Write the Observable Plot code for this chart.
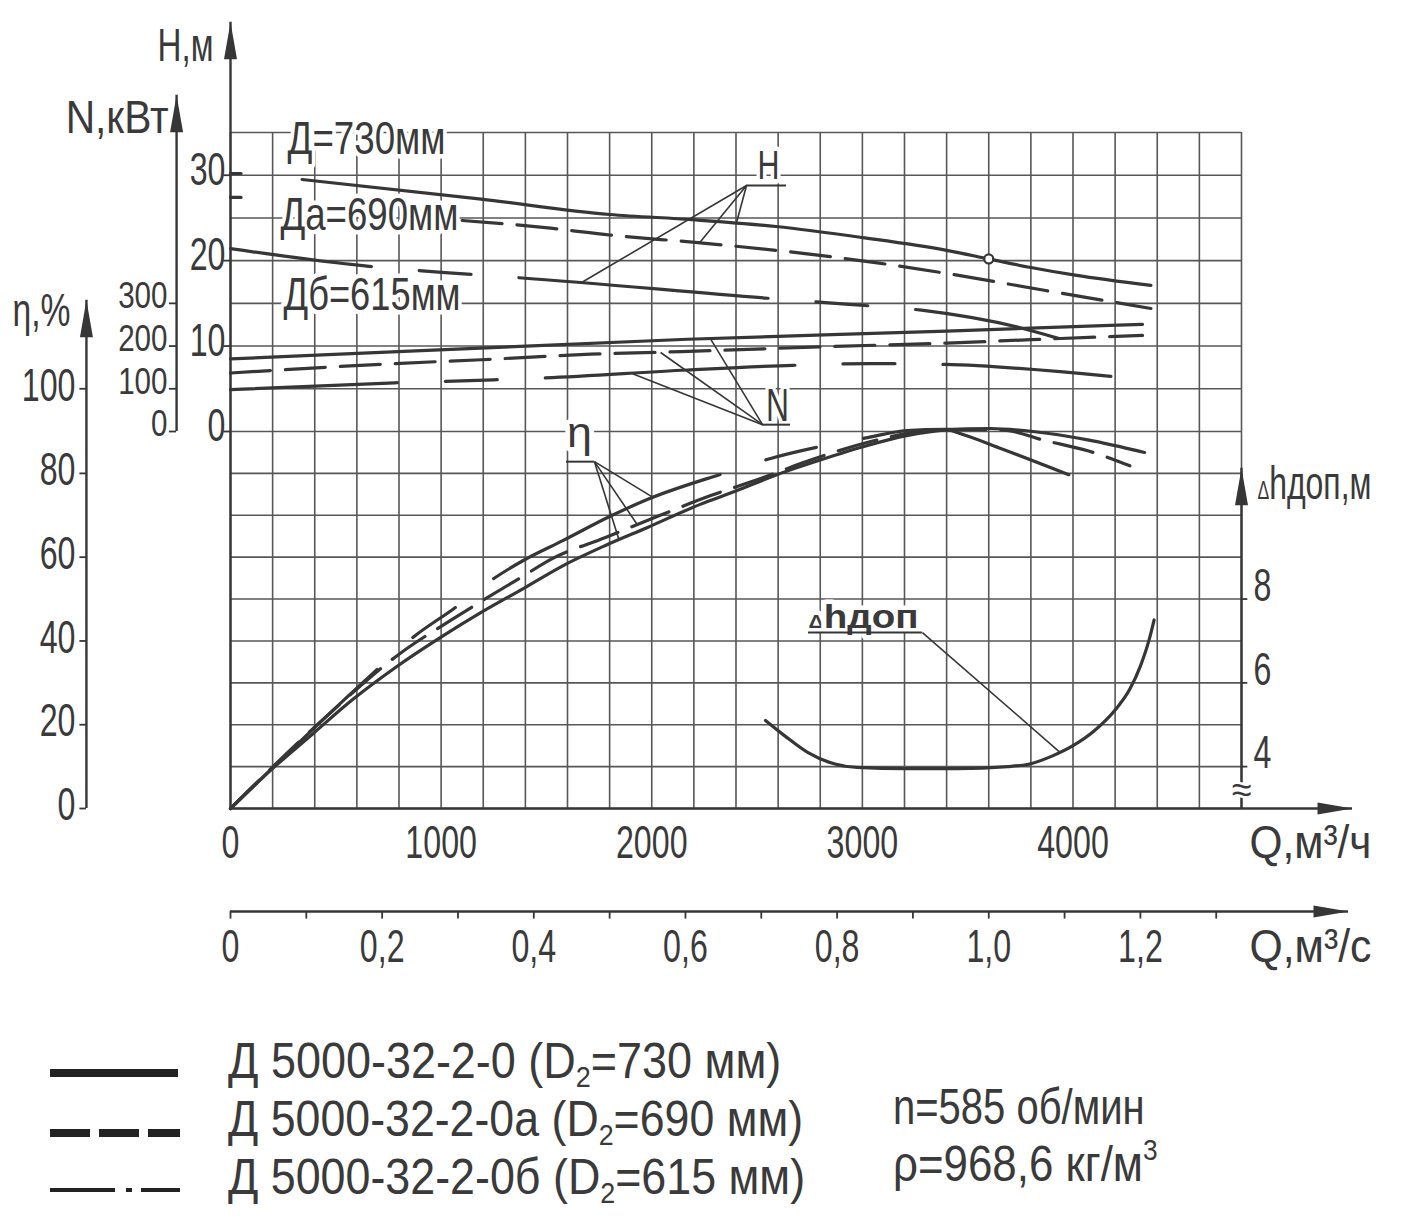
<!DOCTYPE html>
<html><head><meta charset="utf-8">
<script src="https://cdn.jsdelivr.net/npm/d3@7"></script>
<script src="https://cdn.jsdelivr.net/npm/@observablehq/plot@0.6"></script>
<style>
html,body{margin:0;padding:0;background:#fff;}
#page{position:relative;width:1408px;height:1216px;overflow:hidden;background:#fff;font-family:"Liberation Sans",Arial,sans-serif;color:#3a3a3a;}
#chart{position:absolute;left:0;top:0;}
#legend{position:absolute;left:0;top:1020px;width:1408px;height:196px;}
.lg{position:absolute;white-space:nowrap;font-size:50px;line-height:50px;transform-origin:left center;display:inline-block;}
.lg sub{font-size:60%;vertical-align:-0.3em;line-height:0;}
.lg sup{font-size:60%;vertical-align:0.7em;line-height:0;}
</style></head><body><div id="page"><div id="chart"></div><div id="legend"></div></div>
<script>
// ---------------- DATA ----------------
const qTickLabels = [0, 1000, 2000, 3000, 4000];            // Q, м3/ч
const qsTickLabels = [0, 0.2, 0.4, 0.6, 0.8, 1.0, 1.2];      // Q, м3/с
const qsMinorTicks = [0, 0.1, 0.2, 0.3, 0.4, 0.5, 0.6, 0.7, 0.8, 0.9, 1.0, 1.1, 1.2, 1.3];
const hTicks = [0, 10, 20, 30];
const nTicks = [0, 100, 200, 300];
const etaTicks = [0, 20, 40, 60, 80, 100];
const dhTicks = [4, 6, 8];

// H (m) vs Q (m3/h); null = gap in the drawn curve
const qH730 = [0, 50, 200, 340, 1190, 1800, 2190, 2590, 3000, 3400, 3600, 3800, 4010, 4370];
const hH730 = [30.2, 30.2, null, 29.5, 27.2, 25.4, 24.8, 24.0, 22.7, 21.2, 20.2, 19.2, 18.3, 17.1];
const qH690 = [0, 50, 500, 1100, 1520, 1800, 2220, 2630, 3080, 3450, 3870, 4370];
const hH690 = [27.4, 27.4, null, 24.7, 23.8, 23.0, 22.1, 21.1, 19.7, 18.3, 16.5, 14.4];
const qH615 = [0, 670, 1020, 1370, 2550, 2920, 3280, 3740, 3930];
const hH615 = [21.4, 19.3, 18.6, 18.0, 15.6, 14.9, 14.2, 12.2, 10.9];

// N (kW)
const qN730 = [0, 990, 2170, 3400, 4330];
const nN730 = [170, 191, 216, 235, 251];
const qN690 = [0, 780, 1190, 1710, 2140, 2850, 3400, 3800, 4330];
const nN690 = [137, 159, 168, 181, 187, 199, 207, 215, 225];
const qN615 = [0, 780, 1250, 1470, 2170, 2670, 3040, 3390, 4180];
const nN615 = [98, 114, 121, 125, 144, 155, 159, 157, 129];

// η (%)
const qE730 = [0, 190, 390, 580, 790, 990, 1190, 1390, 1580, 1780, 1980, 2230, 2390, 2600, 2800, 3020, 3210, 3400, 3610, 3810, 4070, 4340];
const eE730 = [0, 9.1, 17.8, 26.0, 33.9, 40.6, 46.8, 52.5, 58.0, 62.8, 67.1, 72.6, 75.6, 79.8, 83.2, 86.6, 89.0, 90.4, 90.7, 90.0, 88.0, 85.0];
const qE690 = [0, 475, 810, 1045, 1380, 1530, 1780, 2040, 2280, 2530, 2710, 3040, 3210, 3420, 3660, 3870, 4070, 4270];
const eE690 = [0, 22.9, 37.2, 44.9, 55.2, 59.7, 64.7, 70.0, 74.7, 79.0, 82.4, 87.6, 89.5, 90.5, 90.4, 87.8, 85.4, 81.8];
const qE615 = [0, 475, 690, 870, 1060, 1250, 1390, 1580, 1800, 1990, 2340, 2560, 2800, 3030, 3210, 3390, 3470, 3660, 3980];
const eE615 = [0, 22.9, 32.9, 41.0, 47.7, 54.9, 59.2, 64.0, 69.7, 74.0, 80.0, 83.5, 86.4, 88.6, 90.2, 90.5, 89.4, 85.9, 79.7];

// Δh доп (m)
const qDh = [2540, 2630, 2740, 2850, 2975, 3210, 3450, 3690, 3800, 3900, 4000, 4100, 4200, 4270, 4320, 4360, 4385];
const dhVals = [5.10, 4.74, 4.34, 4.09, 3.98, 3.95, 3.95, 4.00, 4.07, 4.25, 4.50, 4.85, 5.35, 5.85, 6.40, 7.00, 7.50];

const nominalPoint = [{q: 3600, h: 20.2}];

// annotation labels and leader lines (in data units of each quantity)
const diamLabels = [{text: "Д=730мм", q: 271, h: 34.2}, {text: "Да=690мм", q: 237, h: 25.3}, {text: "Дб=615мм", q: 252, h: 16.0}];
const leadersH = [{q1: 2450, v1: 28.8, q2: 1671, v2: 17.5}, {q1: 2450, v1: 28.8, q2: 2227, v2: 22.1}, {q1: 2450, v1: 28.8, q2: 2402, v2: 24.4}];
const underH = [{q1: 2450, q2: 2640, v: 28.8}];
const labelH = [{text: "H", q: 2554, v: 31.0}];
const leadersN = [{q1: 2526, v1: 16, q2: 2279, v2: 217}, {q1: 2526, v1: 16, q2: 2042, v2: 185}, {q1: 2526, v1: 16, q2: 1909, v2: 135}];
const underN = [{q1: 2526, q2: 2659, v: 16}];
const labelN = [{text: "N", q: 2597, v: 58.5}];
const leadersE = [{q1: 1728, v1: 82.8, q2: 2002, v2: 74.4}, {q1: 1728, v1: 82.8, q2: 1931, v2: 67.8}, {q1: 1728, v1: 82.8, q2: 1844, v2: 64.2}];
const underE = [{q1: 1595, q2: 1728, v: 82.8}];
const labelE = [{text: "η", q: 1657, v: 89.5}];
const leadersD = [{q1: 3285, v1: 7.2, q2: 3941, v2: 4.33}];
const underD = [{q1: 2744, q2: 3285, v: 7.2}];
const labelD = [{text: "Δhдоп", q: 3005, v: 7.57}];

const legendNames = ["Д 5000-32-2-0", "Д 5000-32-2-0а", "Д 5000-32-2-0б"];
const legendD2 = [730, 690, 615];
const pumpSpeed = "n=585 об/мин";
const pumpDensity = "ρ=968,6 кг/м";

// ---------------- LAYOUT ----------------
const INK = "#363636", GRID = "#575757", TXT = "#3a3a3a";
const FONT = "'Liberation Sans', Arial, sans-serif";
// y scale works in grid cells: 0 = Q axis, 9 = H/N zero, 16 = top of grid
const Y = {h: v => 9 + v / 5, n: v => 9 + v / 100, e: v => v / 10, d: v => v - 3};
const pts = (qs, vs, f) => qs.map((q, i) => ({q, v: vs[i] == null ? NaN : f(vs[i])}));

const vAxes = [{q: 0, a: 0, b: 18.58}, {q: -256, a: 9, b: 16.87}, {q: -684, a: 0, b: 12.07}, {q: 4800, a: 0, b: 8.12}];
const hAxes = [{v: 0, a: 0, b: 5327}, {v: -2.46, a: 0, b: 5308}];
const titlesEnd = [{text: "H,м", q: -81, c: 18.01}, {text: "N,кВт", q: -294, c: 16.33}];
const titlesStart = [{text: "η,%", q: -1035, c: 11.81}, {text: "Δhдоп,м", q: 4876, c: 7.73}, {text: "Q,м³/ч", q: 4838, c: -0.84}, {text: "Q,м³/с", q: 4838, c: -3.32}];
const fitW = {"Д=730мм": 158, "Да=690мм": 178, "Дб=615мм": 177, "H,м": 56, "N,кВт": 103, "η,%": 58, "Δhдоп,м": 114, "Q,м³/ч": 122, "Q,м³/с": 122, "H": 22, "N": 23, "η": 25, "Δhдоп": 110};
const NUM_SCALE = 0.7;

const arrowUp = {draw(ctx) { ctx.moveTo(0, 0); ctx.lineTo(-6.5, 37); ctx.lineTo(6.5, 37); ctx.closePath(); }};
const arrowRight = {draw(ctx) { ctx.moveTo(0, 0); ctx.lineTo(-35, -6); ctx.lineTo(-35, 6); ctx.closePath(); }};

const gridQ = d3.range(0, 4801, 200);
const gridRows = d3.range(0, 17);

const base = {x: "q", y: "v", stroke: INK, strokeWidth: 3.2, curve: "monotone-x"};
const DASH = "40,15", DASHDOT = "250,48,52,48";
const halo = {stroke: "white", strokeWidth: 9, paintOrder: "stroke", fill: TXT, fontFamily: FONT};
const num = {fill: TXT, fontFamily: FONT, fontSize: 46, ariaDescription: "num"};
const numN = {fill: TXT, fontFamily: FONT, fontSize: 37, ariaDescription: "numN"};
const thin = {stroke: INK, strokeWidth: 1.6};

const marks = [
  Plot.ruleX(gridQ, {x: d => d, y1: () => 0, y2: () => 16, stroke: GRID, strokeWidth: 1.6}),
  Plot.ruleY(gridRows, {y: d => d, x1: () => 0, x2: () => 4800, stroke: GRID, strokeWidth: 1.6}),
  Plot.ruleX(vAxes, {x: "q", y1: "a", y2: "b", stroke: INK, strokeWidth: 2.4}),
  Plot.ruleY(hAxes, {y: "v", x1: "a", x2: "b", stroke: INK, strokeWidth: 2.4}),
  Plot.ruleX(qsMinorTicks, {x: d => d * 3600, y1: () => -2.46, y2: () => -2.64, stroke: INK, strokeWidth: 1.8}),
  Plot.ruleY(nTicks, {y: d => Y.n(d), x1: () => -290, x2: () => -256, stroke: INK, strokeWidth: 1.8}),
  Plot.ruleY(etaTicks, {y: d => Y.e(d), x1: () => -715, x2: () => -684, stroke: INK, strokeWidth: 1.8}),
  Plot.ruleY(hTicks, {y: d => Y.h(d), x1: () => -32, x2: () => 0, stroke: INK, strokeWidth: 1.8}),
  Plot.ruleY(dhTicks, {y: d => Y.d(d), x1: () => 4800, x2: () => 4830, stroke: INK, strokeWidth: 1.8}),
  // curves
  Plot.line(pts(qH730, hH730, Y.h), base),
  Plot.line(pts(qH690, hH690, Y.h), {...base, strokeDasharray: DASH}),
  Plot.line(pts(qH615, hH615, Y.h), {...base, strokeDasharray: DASHDOT, strokeDashoffset: 108}),
  Plot.line(pts(qN730, nN730, Y.n), base),
  Plot.line(pts(qN690, nN690, Y.n), {...base, strokeDasharray: DASH}),
  Plot.line(pts(qN615, nN615, Y.n), {...base, strokeDasharray: DASHDOT, strokeDashoffset: 83}),
  Plot.line(pts(qE730, eE730, Y.e), base),
  Plot.line(pts(qE690, eE690, Y.e), {...base, strokeDasharray: DASH}),
  Plot.line(pts(qE615, eE615, Y.e), {...base, strokeDasharray: DASHDOT, strokeDashoffset: 48}),
  Plot.line(pts(qDh, dhVals, Y.d), base),
  Plot.dot(nominalPoint, {x: "q", y: d => Y.h(d.h), r: 4.5, fill: "white", stroke: INK, strokeWidth: 2.2}),
  // labels with white halo
  Plot.text(diamLabels, {x: "q", y: d => Y.h(d.h), text: "text", textAnchor: "start", fontSize: 46, ...halo}),
  Plot.text(labelH, {x: "q", y: d => Y.h(d.v), text: "text", fontSize: 40, ...halo}),
  Plot.text(labelN, {x: "q", y: d => Y.n(d.v), text: "text", fontSize: 46, ...halo}),
  Plot.text(labelE, {x: "q", y: d => Y.e(d.v), text: "text", fontSize: 42, ...halo}),
  Plot.text(labelD, {x: "q", y: d => Y.d(d.v), text: "text", fontSize: 33, fontWeight: "bold", ...halo}),
  Plot.text([0], {x: () => 4800, y: () => 0.43, text: () => "≈", fontSize: 36, ...halo, strokeWidth: 5}),
  // leaders
  Plot.link(leadersH, {x1: "q1", y1: d => Y.h(d.v1), x2: "q2", y2: d => Y.h(d.v2), ...thin}),
  Plot.ruleY(underH, {y: d => Y.h(d.v), x1: "q1", x2: "q2", stroke: INK, strokeWidth: 2}),
  Plot.link(leadersN, {x1: "q1", y1: d => Y.n(d.v1), x2: "q2", y2: d => Y.n(d.v2), ...thin}),
  Plot.ruleY(underN, {y: d => Y.n(d.v), x1: "q1", x2: "q2", stroke: INK, strokeWidth: 2}),
  Plot.link(leadersE, {x1: "q1", y1: d => Y.e(d.v1), x2: "q2", y2: d => Y.e(d.v2), ...thin}),
  Plot.ruleY(underE, {y: d => Y.e(d.v), x1: "q1", x2: "q2", stroke: INK, strokeWidth: 2}),
  Plot.link(leadersD, {x1: "q1", y1: d => Y.d(d.v1), x2: "q2", y2: d => Y.d(d.v2), ...thin}),
  Plot.ruleY(underD, {y: d => Y.d(d.v), x1: "q1", x2: "q2", stroke: INK, strokeWidth: 2}),
  // arrows
  Plot.dot(vAxes, {x: "q", y: "b", symbol: arrowUp, fill: INK, stroke: "none"}),
  Plot.dot(hAxes, {x: "b", y: "v", symbol: arrowRight, fill: INK, stroke: "none"}),
  // axis numbers
  Plot.text(qTickLabels, {x: d => d, y: () => -0.84, text: d => String(d), ...num}),
  Plot.text(qsTickLabels, {x: d => d * 3600, y: () => -3.32, text: d => d === 0 ? "0" : d.toFixed(1).replace(".", ","), ...num}),
  Plot.text(hTicks, {x: () => -24, y: d => Y.h(d), dy: -5, textAnchor: "end", text: d => String(d), ...num}),
  Plot.text(nTicks, {x: () => -299, y: d => Y.n(d), dy: -7, textAnchor: "end", text: d => String(d), ...numN}),
  Plot.text(etaTicks, {x: () => -736, y: d => Y.e(d), dy: -3, textAnchor: "end", text: d => String(d), ...num}),
  Plot.text(dhTicks, {x: () => 4857, y: d => Y.d(d), dy: -13, textAnchor: "start", text: d => String(d), ...num}),
  // axis titles
  Plot.text(titlesEnd, {x: "q", y: "c", text: "text", textAnchor: "end", fontSize: 46, fill: TXT, fontFamily: FONT}),
  Plot.text(titlesStart, {x: "q", y: "c", text: "text", textAnchor: "start", fontSize: 46, fill: TXT, fontFamily: FONT})
];

const chart = Plot.plot({
  width: 1408, height: 1020, margin: 0,
  style: {background: "#fff", color: INK, fontFamily: FONT, overflow: "visible"},
  x: {type: "linear", domain: [0, 4800], range: [230, 1241], axis: null},
  y: {type: "linear", domain: [0, 9, 16], range: [808, 431, 132], axis: null},
  marks
});
document.getElementById("chart").appendChild(chart);

// small Δ in "Δhдоп" texts
chart.querySelectorAll("text").forEach(t => {
  const s = t.textContent;
  if (s.startsWith("Δ")) {
    t.textContent = "";
    const ts = document.createElementNS("http://www.w3.org/2000/svg", "tspan");
    ts.setAttribute("font-size", "55%"); ts.textContent = "Δ";
    t.appendChild(ts);
    t.appendChild(document.createTextNode(s.slice(1)));
  }
});
// narrow the lettering like the drafting font of the original
chart.querySelectorAll("text").forEach(t => {
  const key = t.textContent;
  let s = null;
  if (fitW[key]) { const w = t.getBBox().width; if (w > 0) s = fitW[key] / w; }
  else if (t.closest('[aria-description="num"]')) s = NUM_SCALE;
  else if (t.closest('[aria-description="numN"]')) s = 0.8;
  if (s == null) return;
  const tr = t.getAttribute("transform") || "";
  let pre = "";
  const xa = t.getAttribute("x"), ya = t.getAttribute("y");
  if (xa && !isNaN(+xa)) { pre += ` translate(${+xa},0)`; t.removeAttribute("x"); }
  if (ya && !isNaN(+ya)) { pre += ` translate(0,${+ya})`; t.removeAttribute("y"); }
  t.setAttribute("transform", `${tr}${pre} scale(${s.toFixed(3)},1)`);
});

// ---------------- LEGEND ----------------
const lg = document.getElementById("legend");
lg.innerHTML = `<svg width="1408" height="196" style="position:absolute;left:0;top:0">
 <line x1="50" x2="178" y1="53" y2="53" stroke="#222" stroke-width="8"/>
 <line x1="50" x2="180" y1="113" y2="113" stroke="#222" stroke-width="8" stroke-dasharray="40 9"/>
 <line x1="50" x2="180" y1="170" y2="170" stroke="#222" stroke-width="4" stroke-dasharray="65 11 6 9 60"/>
</svg>`;
const rowCenters = [40, 98, 156];
const rowWidths = [553, 575, 577];
function addText(html, left, center, width) {
  const sp = document.createElement("span");
  sp.className = "lg"; sp.innerHTML = html;
  sp.style.left = left + "px"; sp.style.top = (center - 24.4) + "px";
  lg.appendChild(sp);
  const w = sp.offsetWidth;
  if (w > 0) sp.style.transform = `scaleX(${(width / w).toFixed(3)})`;
}
legendNames.forEach((name, i) => addText(`${name} (D<sub>2</sub>=${legendD2[i]} мм)`, 228, rowCenters[i], rowWidths[i]));
addText(pumpSpeed, 893, 86, 252);
addText(`${pumpDensity}<sup>3</sup>`, 893, 143, 265);
</script></body></html>
